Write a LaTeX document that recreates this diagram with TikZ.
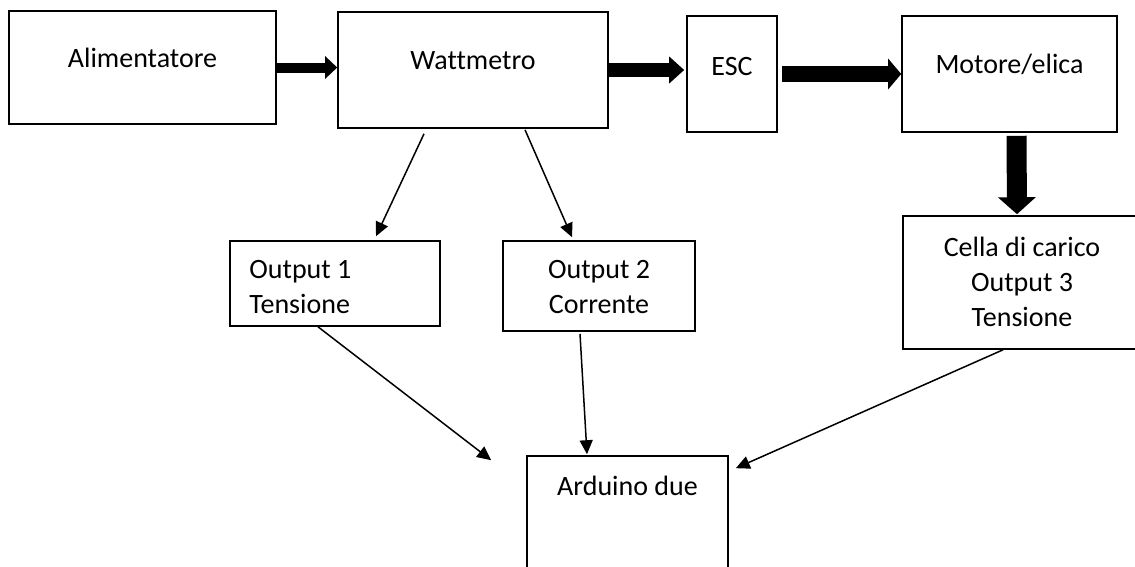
\documentclass[tikz,border=0pt]{standalone}
\usepackage{fontspec}
\setmainfont{Carlito}[Ligatures=NoCommon]
\usetikzlibrary{arrows.meta}
\begin{document}
\begin{tikzpicture}[x=1pt,y=-1pt,
    box/.style={draw,line width=1.6pt,inner sep=0pt},
    txt/.style={inner sep=0pt,font=\fontsize{28}{35}\selectfont,align=center},
    fat/.style={-{Triangle[length=#1]},line cap=butt},
    thin/.style={line width=1.5pt,-{Triangle[length=14pt,width=13pt]}}]
\useasboundingbox (0,0) rectangle (1135,566);
\clip (0,0) rectangle (1135,566);
% top row
\node[box,minimum width=267,minimum height=113] (alim) at (142.5,67.5) {};
\node[box,minimum width=270,minimum height=116] (watt) at (473,70) {};
\node[box,minimum width=90,minimum height=116] (esc) at (732,74) {};
\node[box,minimum width=215,minimum height=116] (mot) at (1009.5,74) {};
\node[txt] at ([yshift=-48pt]alim.north) {Alimentatore};
\node[txt] at ([yshift=-49pt]watt.north) {Wattmetro};
\node[txt] at ([yshift=-51pt]esc.north) {ESC};
\node[txt] at ([yshift=-49pt]mot.north) {Motore/elica};
% outputs
\node[box,minimum width=210,minimum height=85] (out1) at (335,283.5) {};
\node[box,minimum width=192,minimum height=90] (out2) at (599,286) {};
\node[box,minimum width=238,minimum height=133] (cella) at (1022,282.5) {};
\node[txt,anchor=west,align=left] at ([xshift=20pt,yshift=-47pt]out1.north west) {Output 1\\Tensione};
\node[txt] at ([yshift=-47pt]out2.north) {Output 2\\Corrente};
\node[txt] at ([yshift=-67pt]cella.north) {Cella di carico\\Output 3\\Tensione};
% arduino
\node[box,minimum width=201,minimum height=144] (ard) at (627.5,528) {};
\node[txt] at ([yshift=-31pt]ard.north) {Arduino due};
% fat arrows
\draw[fat={12pt,width=22pt},line width=10pt] (alim.east) -- (alim.east -| watt.west);
\draw[fat={15pt,width=26pt},line width=14pt] (watt.east) -- ([xshift=-2pt]watt.east -| esc.west);
\draw[fat={13pt,width=30pt},line width=16pt] ([xshift=4pt]esc.east) -- (esc.east -| mot.west);
\draw[fat={17pt,width=37pt},line width=20pt] ([xshift=7pt,yshift=-3pt]mot.south) -- ([xshift=-5pt,yshift=1pt]cella.north);
% thin arrows
\draw[thin] ([xshift=-49pt,yshift=-5pt]watt.south) -- ([xshift=41pt,yshift=4pt]out1.north);
\draw[thin] ([xshift=52pt,yshift=-1pt]watt.south) -- ([xshift=-27pt,yshift=3pt]out2.north);
\draw[thin] ([xshift=-17pt]out1.south) -- ([xshift=-35pt,yshift=-5pt]ard.north west);
\draw[thin] ([xshift=-19pt,yshift=-2pt]out2.south) -- ([xshift=-40.5pt,yshift=1pt]ard.north);
\draw[thin] ([xshift=-19pt]cella.south) -- ([xshift=7pt,yshift=-13pt]ard.north east);
\end{tikzpicture}
\end{document}
